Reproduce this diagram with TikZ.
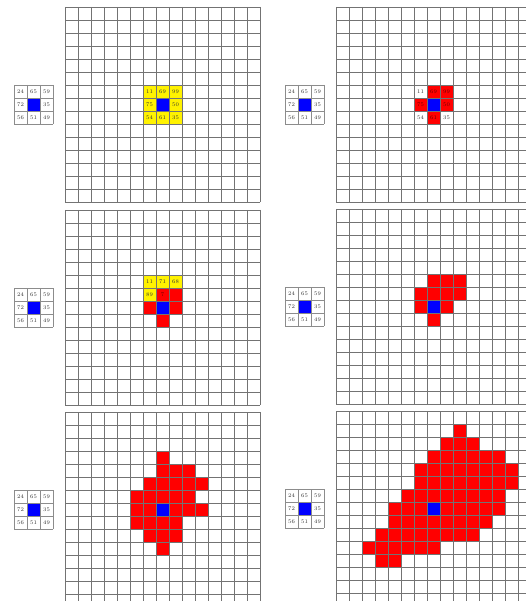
\documentclass[tikz,border=0pt]{standalone}

\tikzset{
  gridline/.style={draw=black!55, line width=0.5pt},
  kernline/.style={draw=black!45, line width=0.5pt},
  num/.style={inner sep=0pt, font=\fontsize{5.5}{5.5}\selectfont, text=black!80},
  rednum/.style={num, text=red!40!black},
  seedcell/.style={fill=blue},
  grown/.style={fill=red},
  window/.style={fill=yellow}
}

% 3x3 kernel left of each board
\newcommand{\kernel}[3]{%
  \begin{scope}[shift={(#1,#2)}]
    \fill[seedcell] (13,13) rectangle ++(13,13);
    \foreach \v/\cx/\ry in {24/0/0,65/1/0,59/2/0,72/0/1,35/2/1,56/0/2,51/1/2,49/2/2}
      \node[num] (#3-\cx-\ry) at (13*\cx+6.5,13*\ry+6.5) {\v};
    \foreach \i in {0,...,3} {
      \draw[kernline] (13*\i,0) -- (13*\i,39);
      \draw[kernline] (0,13*\i) -- (39,13*\i);
    }
  \end{scope}}

% 15x15 board
\newcommand{\board}{%
  \foreach \i in {0,...,15} {
    \draw[gridline] (13*\i,0) -- (13*\i,195);
    \draw[gridline] (0,13*\i) -- (195,13*\i);
  }}

% one row of filled cells: style, row, first col, last col
\newcommand{\fillrow}[4]{%
  \foreach \cx in {#3,...,#4} \fill[#1] (13*\cx,13*#2) rectangle ++(13,13);}

\newcommand{\seed}{\fill[seedcell] (91,91) rectangle ++(13,13);}

\begin{document}
\begin{tikzpicture}[x=1pt,y=-1pt]
  \useasboundingbox (0,0) rectangle (526,601);
  \clip (0,0) rectangle (526,601);

  % top left
  \kernel{14}{85}{ka}
  \begin{scope}[shift={(65,7)}]
    \fillrow{window}{6}{6}{8}
    \fillrow{window}{7}{6}{8}
    \fillrow{window}{8}{6}{8}
    \seed
    \board
    \foreach \v/\cx/\ry in {11/6/6,69/7/6,99/8/6,75/6/7,50/8/7,54/6/8,61/7/8,35/8/8}
      \node[num] (a-\cx-\ry) at (13*\cx+6.5,13*\ry+6.5) {\v};
  \end{scope}

  % top right
  \kernel{285}{85}{kb}
  \begin{scope}[shift={(336,7)}]
    \fillrow{grown}{6}{7}{8}
    \fillrow{grown}{7}{6}{8}
    \fillrow{grown}{8}{7}{7}
    \seed
    \board
    \foreach \v/\cx/\ry in {11/6/6,54/6/8,35/8/8}
      \node[num] (b-\cx-\ry) at (13*\cx+6.5,13*\ry+6.5) {\v};
    \foreach \v/\cx/\ry in {69/7/6,99/8/6,75/6/7,50/8/7,61/7/8}
      \node[rednum] (b-\cx-\ry) at (13*\cx+6.5,13*\ry+6.5) {\v};
  \end{scope}

  % middle left
  \kernel{14}{288}{kc}
  \begin{scope}[shift={(65,210)}]
    \fillrow{window}{5}{6}{8}
    \fillrow{window}{6}{6}{6}
    \fillrow{grown}{6}{7}{8}
    \fillrow{grown}{7}{6}{8}
    \fillrow{grown}{8}{7}{7}
    \seed
    \board
    \foreach \v/\cx/\ry in {11/6/5,71/7/5,68/8/5,89/6/6}
      \node[num] (c-\cx-\ry) at (13*\cx+6.5,13*\ry+6.5) {\v};
    \node[rednum] (c-7-6) at (13*7+6.5,13*6+6.5) {7};
  \end{scope}

  % middle right
  \kernel{285}{287}{kd}
  \begin{scope}[shift={(336,209)}]
    \fillrow{grown}{5}{7}{9}
    \fillrow{grown}{6}{6}{9}
    \fillrow{grown}{7}{6}{8}
    \fillrow{grown}{8}{7}{7}
    \seed
    \board
  \end{scope}

  % bottom left
  \kernel{14}{490}{ke}
  \begin{scope}[shift={(65,412)}]
    \fillrow{grown}{3}{7}{7}
    \fillrow{grown}{4}{7}{9}
    \fillrow{grown}{5}{6}{10}
    \fillrow{grown}{6}{5}{9}
    \fillrow{grown}{7}{5}{10}
    \fillrow{grown}{8}{5}{8}
    \fillrow{grown}{9}{6}{8}
    \fillrow{grown}{10}{7}{7}
    \seed
    \board
  \end{scope}

  % bottom right
  \kernel{285}{489}{kf}
  \begin{scope}[shift={(336,411)}]
    \fillrow{grown}{1}{9}{9}
    \fillrow{grown}{2}{8}{10}
    \fillrow{grown}{3}{7}{12}
    \fillrow{grown}{4}{6}{13}
    \fillrow{grown}{5}{6}{13}
    \fillrow{grown}{6}{5}{12}
    \fillrow{grown}{7}{4}{12}
    \fillrow{grown}{8}{4}{11}
    \fillrow{grown}{9}{3}{10}
    \fillrow{grown}{10}{2}{7}
    \fillrow{grown}{11}{3}{4}
    \seed
    \board
  \end{scope}
\end{tikzpicture}
\end{document}
